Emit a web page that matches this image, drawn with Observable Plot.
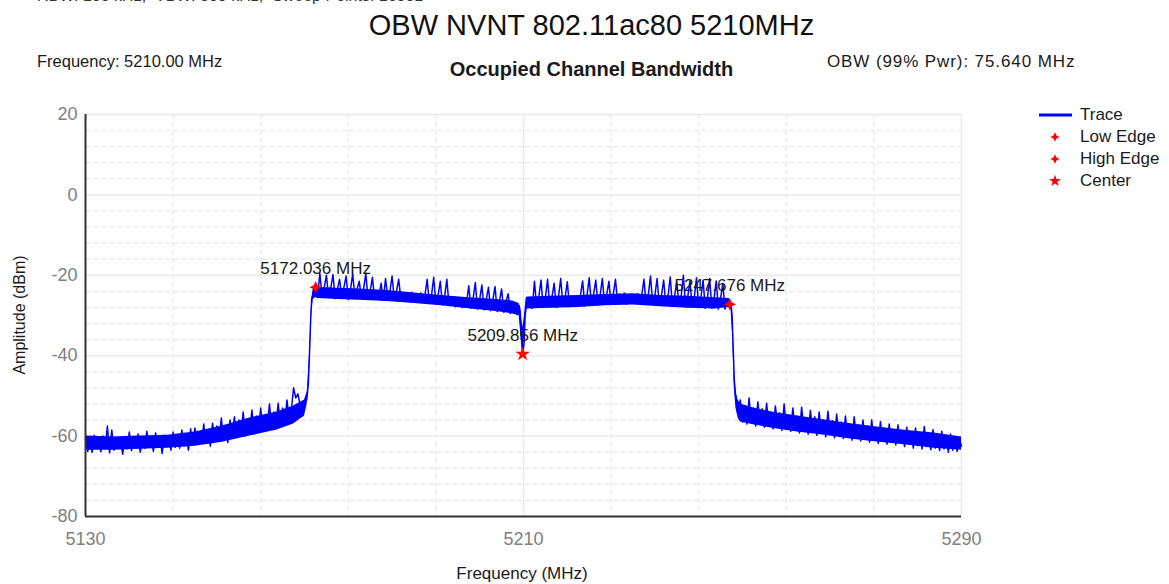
<!DOCTYPE html>
<html>
<head>
<meta charset="utf-8">
<script src="https://cdn.jsdelivr.net/npm/d3@7"></script>
<script src="https://cdn.jsdelivr.net/npm/@observablehq/plot@0.6"></script>
<style>
  html, body { margin: 0; padding: 0; background: #fff; }
  #wrap { position: relative; width: 1169px; height: 584px; overflow: hidden; font-family: "Liberation Sans", Arial, sans-serif; color: #1a1a1a; }
  .t { position: absolute; white-space: nowrap; line-height: 1; }
  #chart { position: absolute; left: 0; top: 0; }
</style>
</head>
<body>
<div id="wrap">
  <div id="chart"></div>
  <div class="t" style="left:37px; top:-12px; font-size:16px; color:#333;">RBW: 100 kHz,&nbsp; VBW: 300 kHz,&nbsp; Sweep Points: 16001</div>
  <div class="t" style="left:0; width:1169px; text-align:center; top:11px; font-size:29px; color:#111; padding-left:14px; box-sizing:border-box;">OBW NVNT 802.11ac80 5210MHz</div>
  <div class="t" style="left:37px; top:53px; font-size:16.5px;">Frequency: 5210.00 MHz</div>
  <div class="t" style="left:0; width:1169px; text-align:center; top:59px; font-size:20px; font-weight:bold; padding-left:14px; box-sizing:border-box;">Occupied Channel Bandwidth</div>
  <div class="t" style="left:827px; top:53px; font-size:17px; letter-spacing:0.9px;">OBW (99% Pwr): 75.640 MHz</div>
  <div class="t" style="left:20px; top:315px; font-size:16px; transform: translate(-50%,-50%) rotate(-90deg);">Amplitude (dBm)</div>
  <div class="t" style="left:522px; top:565px; font-size:17px; transform: translateX(-50%);">Frequency (MHz)</div>
  <div id="legend"></div>
</div>
<script>
// ---- Data ----
const xTicks = [5130, 5210, 5290];
const yTicks = [-80, -60, -40, -20, 0, 20];
const sweepStep = 0.4;

const leftStart = 5130;
const leftAmp = [
  -60.5,-63.8,-61,-64,-59.8,-63,-61.2,-63.9,-60,-62.8,
  -57.5,-64.2,-58.5,-63.5,-60.8,-63,-61.5,-64.5,-60.2,-63.2,
  -59,-63.6,-61,-62.9,-59.5,-64,-60.8,-63,-58.8,-62.5,
  -60.5,-63.8,-59.2,-62.8,-60.5,-64.3,-59.8,-62.6,-61,-63.5,
  -59,-62.8,-60.2,-63,-58.5,-62.4,-60,-63.5,-58.2,-62,
  -58,-62,-59.5,-61.6,-57,-61.8,-58.6,-62.5,-56.8,-60.8,
  -57.5,-61,-55.5,-60.4,-57.8,-61.6,-56,-60,-55.2,-59.8,
  -56,-59.6,-54,-60,-55.8,-58.8,-53.5,-59.5,-55,-58.4,
  -53,-58.5,-54.6,-57.8,-52,-58.2,-54,-57,-51.8,-57.6,
  -53,-56.8,-51,-56,-53.5,-48,-50.5,-49.5,-52.2,-55,
  -52
];
const riseFreq = [5170.4, 5170.7, 5170.9, 5171.1, 5171.3, 5171.6, 5172.036];
const riseAmp  = [-51, -47, -40, -32, -26, -24, -23];

const bandAStart = 5172.4;
const bandAAmp = [
  -25.5,-19.5,-25,-23,-20,-25.5,-23.2,-19.8,-25.8,-23.5,
  -21,-25.2,-23,-20.2,-26,-23.6,-19.6,-25.5,-23.4,-21.5,
  -25.8,-23.3,-19.5,-26,-24,-20.5,-25.6,-23.8,-24.8,-22,
  -26.2,-20.8,-25.5,-24,-20.2,-26,-24,-21,-25.8,-24.2,
  -26.4,-24.5,-25.8,-24.2,-26.6,-24.8,-26.2,-24.4,-26.8,-25,
  -21,-27,-25,-20.5,-27.2,-25,-21.5,-27.4,-25.2,-21,
  -27.5,-25.4,-26.2,-27.8,-25.5,-26.5,-28,-25.6,-26.8,-22.6,
  -28.2,-25.8,-21.8,-28.4,-26,-22.4,-28.6,-26,-23,-28.8,
  -26.2,-22.8,-29,-26.4,-23.4,-29.2,-26.5,-24.6,-29.5,-26.8,
  -27.5,-29.8,-27.5
];
const dipFreq = [5209.4, 5209.6, 5209.856, 5210.1, 5210.3, 5210.5];
const dipAmp  = [-29, -35, -39.6, -37, -30, -28];

const bandBStart = 5210.8;
const bandBAmp = [
  -27.5,-25.6,-28.2,-21.5,-27.8,-25.4,-21.2,-28,-25.5,-21,
  -27.8,-25.4,-22,-28,-25.2,-20.8,-27.6,-25.4,-21.6,-27.8,
  -25.2,-27.6,-25.6,-27.4,-25,-21.4,-27.6,-25,-20.6,-27.2,
  -24.8,-21.2,-27.4,-25,-20.8,-27,-24.8,-21.5,-27.2,-24.6,
  -21,-27,-24.6,-26.8,-24.4,-27.2,-24.8,-26.6,-25,-27,
  -24.6,-26.8,-25,-21,-27,-24.8,-20.2,-27.2,-25,-20.8,
  -27.4,-25,-21.2,-27.4,-25.2,-20.4,-27.6,-25.2,-21.6,-27.6,
  -25.2,-20,-27.8,-25.4,-21.4,-27.8,-25.5,-20.6,-28,-25.6,
  -21.2,-28.2,-25.6,-20.8,-28.2,-25.8,-21.4,-28.4,-25.8,-22,
  -28.4,-26,-26.8
];
const fallFreq = [5247.676, 5247.9, 5248.1, 5248.3, 5248.5, 5248.8, 5249.1];
const fallAmp  = [-27.2, -27, -30, -38, -46, -51, -54];

const rightStart = 5249.6;
const rightAmp = [
  -51,-56.5,-52.5,-57,-50.5,-56.8,-53,-57.5,-51.5,-56.4,
  -53.2,-57.8,-51.8,-57,-54,-58.2,-52.5,-57.4,-54.2,-58.6,
  -52,-57.8,-54.8,-58.8,-53,-58.2,-55,-59.2,-52.8,-58.4,
  -55.4,-59.5,-53.6,-58.8,-55.2,-59.8,-54,-59,-56,-60.2,
  -53.8,-59.4,-56.2,-60.4,-54.5,-59.6,-56.5,-60.6,-55,-60,
  -57,-61,-55.2,-60.4,-57.2,-61.2,-56,-60.8,-57.5,-61.5,
  -56,-61,-58,-61.8,-56.4,-61.2,-58.2,-62,-57,-61.4,
  -58.6,-62.2,-57.2,-61.6,-59,-62.6,-57.8,-62,-59.2,-63,
  -58,-62.4,-59.6,-63.2,-57.6,-62.6,-60,-63.4,-58.4,-63,
  -60.2,-63.6,-58.8,-63.2,-60.5,-64,-59.5,-63.5,-61,-63.8,
  -60.5,-62.5
];

// Dense noise body of the trace (upper / lower edge of the solid blue band)
const envFreq = [
  5130, 5135, 5140, 5145, 5150, 5155, 5160, 5165, 5168, 5170,
  5170.5, 5171, 5171.3, 5171.6, 5172.036,
  5172.4, 5176, 5180, 5185, 5190, 5195, 5200, 5205, 5208, 5209.2,
  5209.6, 5209.856, 5210.1, 5210.5,
  5210.8, 5215, 5220, 5225, 5230, 5235, 5240, 5245, 5247.6,
  5247.9, 5248.2, 5248.5, 5248.8, 5249.2,
  5249.6, 5252, 5256, 5260, 5265, 5270, 5275, 5280, 5285, 5290
];
const envHi = [
  -60, -60.2, -60, -59.8, -59, -57.5, -55.5, -54, -52.5, -51,
  -49, -38, -27, -23.5, -22.5,
  -23, -23.2, -23.4, -23.8, -24.4, -25, -25.6, -26, -26.4, -27,
  -30, -33, -31, -25.5,
  -25.4, -25.2, -25, -24.8, -24.6, -25, -25.2, -25.6, -25.8,
  -26.5, -30, -44, -49, -51,
  -52, -53, -54.2, -55, -56, -57, -57.8, -58.6, -59.2, -60.2
];
const envLo = [
  -63.5, -63.5, -63.3, -63, -62.5, -61.5, -60, -58.5, -57, -55,
  -52, -42, -30, -26, -25.5,
  -25.8, -26, -26.2, -26.5, -27, -27.6, -28.3, -29, -29.6, -30,
  -36, -39.6, -37, -28.5,
  -28.4, -28.2, -28, -27.6, -27.4, -27.8, -28.2, -28.4, -28,
  -28.5, -35, -48, -53, -55.5,
  -56.5, -57.2, -58.2, -59, -59.8, -60.8, -61.5, -62.2, -63, -63.5
];

const markerNames  = ["Low Edge", "High Edge", "Center"];
const markerFreq   = [5172.036, 5247.676, 5209.856];
const markerAmp    = [-23.0, -27.2, -39.6];
const markerLabels = ["5172.036 MHz", "5247.676 MHz", "5209.856 MHz"];

// ---- Build tables ----
const trace = [];
const addStepped = (start, arr) => arr.forEach((a, i) => trace.push({f: +(start + i * sweepStep).toFixed(3), a}));
const addPaired = (fs, as) => fs.forEach((f, i) => trace.push({f, a: as[i]}));
addStepped(leftStart, leftAmp);
addPaired(riseFreq, riseAmp);
addStepped(bandAStart, bandAAmp);
addPaired(dipFreq, dipAmp);
addStepped(bandBStart, bandBAmp);
addPaired(fallFreq, fallAmp);
addStepped(rightStart, rightAmp);

const envelope = envFreq.map((f, i) => ({f, hi: envHi[i], lo: envLo[i]}));

const markers = markerNames.map((n, i) => ({name: n, f: markerFreq[i], a: markerAmp[i], label: markerLabels[i]}));
const edges = markers.filter(d => d.name !== "Center");
const center = markers.filter(d => d.name === "Center");

// four-point sparkle symbol
const sparkle = {
  draw(ctx, size) {
    const r = Math.sqrt(size / Math.PI) * 1.25, k = r * 0.32;
    ctx.moveTo(0, -r); ctx.lineTo(k, -k); ctx.lineTo(r, 0); ctx.lineTo(k, k);
    ctx.lineTo(0, r); ctx.lineTo(-k, k); ctx.lineTo(-r, 0); ctx.lineTo(-k, -k); ctx.closePath();
  }
};

const minorY = d3.range(-80, 21, 4).filter(v => v % 20 !== 0);
const minorX = d3.range(5130, 5291, 16).filter(v => !xTicks.includes(v));

const gridColor = "#ebebeb";
const blue = "#0000ff";
const chart = Plot.plot({
  width: 1169, height: 584,
  marginLeft: 85, marginRight: 208, marginTop: 114, marginBottom: 68,
  style: {fontFamily: "'Liberation Sans', Arial, sans-serif", background: "transparent"},
  x: {domain: [5130, 5290]},
  y: {domain: [-80, 20]},
  marks: [
    Plot.ruleY(minorY, {stroke: gridColor, strokeWidth: 1.5, strokeDasharray: "5,3"}),
    Plot.ruleX(minorX, {stroke: gridColor, strokeWidth: 1.5, strokeDasharray: "5,3"}),
    Plot.ruleY(yTicks, {stroke: gridColor, strokeWidth: 1.5}),
    Plot.ruleX(xTicks, {stroke: gridColor, strokeWidth: 1.5}),
    Plot.axisX({ticks: xTicks, tickSize: 0, tickPadding: 16, fontSize: 18, color: "#808080", label: null, tickFormat: d => String(d)}),
    Plot.axisY({ticks: yTicks, tickSize: 0, tickPadding: 8, fontSize: 18, color: "#808080", label: null, tickFormat: d => String(d)}),
    Plot.areaY(envelope, {x: "f", y1: "lo", y2: "hi", fill: blue}),
    Plot.line(trace, {x: "f", y: "a", stroke: blue, strokeWidth: 1.5}),
    Plot.ruleX([5130], {stroke: "#333", strokeWidth: 2}),
    Plot.ruleY([-80], {stroke: "#333", strokeWidth: 2}),
    Plot.dot(edges, {x: "f", y: "a", symbol: sparkle, r: 5, fill: "#ff0000", stroke: "none"}),
    Plot.dot(center, {x: "f", y: "a", symbol: "star", r: 4.6, fill: "#ff0000", stroke: "none"}),
    Plot.text(markers, {x: "f", y: "a", text: "label", dy: -19, fontSize: 17, fill: "#1a1a1a"})
  ]
});
document.getElementById("chart").appendChild(chart);

// ---- Legend ----
const legendItems = ["Trace", ...markerNames];
const lg = d3.select("#legend");
legendItems.forEach((name, i) => {
  const top = 115 + i * 22;
  lg.append("div").attr("class", "t")
    .style("left", "1080px").style("top", (top - 9) + "px").style("font-size", "17px").text(name);
  const svg = lg.append("svg").style("position", "absolute")
    .style("left", "1036px").style("top", (top - 10) + "px")
    .attr("width", 40).attr("height", 20);
  if (i === 0) {
    svg.append("line").attr("x1", 3).attr("x2", 36).attr("y1", 10).attr("y2", 10)
      .attr("stroke", blue).attr("stroke-width", 3);
  } else if (name === "Center") {
    svg.append("path").attr("transform", "translate(19,10)")
      .attr("d", d3.symbol(d3.symbolStar, 45)()).attr("fill", "#ff0000");
  } else {
    svg.append("path").attr("transform", "translate(19,10)")
      .attr("d", d3.symbol(sparkle, 45)()).attr("fill", "#ff0000");
  }
});
</script>
</body>
</html>
